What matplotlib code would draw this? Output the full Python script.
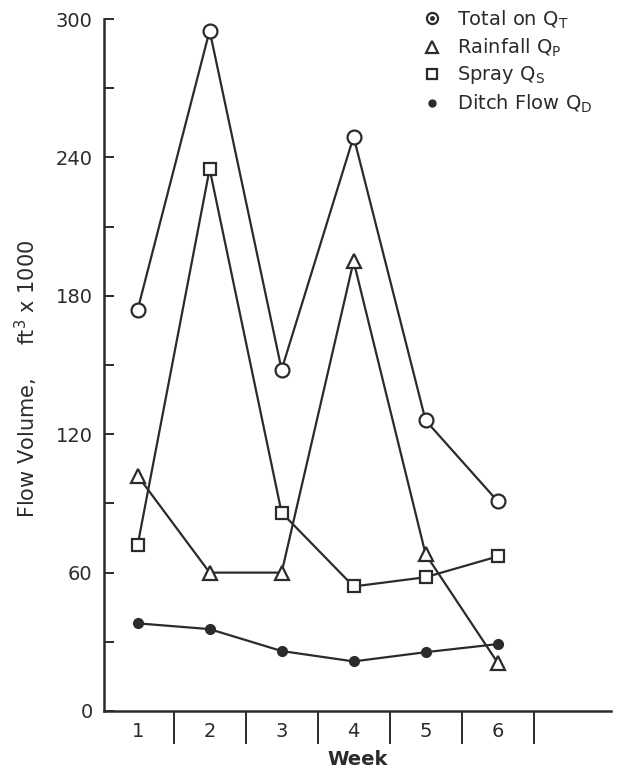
import matplotlib.pyplot as plt
from matplotlib.lines import Line2D

# weekly flow volumes, ft^3 x 1000
weeks = [1, 2, 3, 4, 5, 6]
week_labels = ["1", "2", "3", "4", "5", "6"]
total_qt = [174, 295, 148, 249, 126, 91]
rainfall_qp = [102, 60, 60, 195, 68, 21]
spray_qs = [72, 235, 86, 54, 58, 67]
ditch_qd = [38, 35.5, 26, 21.5, 25.5, 29]

ink = "#2b2b2b"
plt.rcParams["font.family"] = ["DejaVu Sans"]

fig = plt.figure(figsize=(6.18, 7.74), dpi=100)
ax = fig.add_axes([0.168, 0.0814, 0.82, 0.894])

lw = 1.6
ax.plot(weeks, total_qt, color=ink, lw=lw, marker="o", ms=10, mfc="white", mec=ink, mew=1.6, zorder=3)
ax.plot(weeks, spray_qs, color=ink, lw=lw, marker="s", ms=9, mfc="white", mec=ink, mew=1.6, zorder=3)
ax.plot(weeks, rainfall_qp, color=ink, lw=lw, marker="^", ms=10, mfc="white", mec=ink, mew=1.6, zorder=3)
ax.plot(weeks, ditch_qd, color=ink, lw=lw, marker="o", ms=7, mfc=ink, mec=ink, zorder=3)

ax.set_ylim(0, 300)
ax.set_xlim(0.53, 7.57)
ax.spines["top"].set_visible(False)
ax.spines["right"].set_visible(False)
for s in ["left", "bottom"]:
    ax.spines[s].set_linewidth(1.8)
    ax.spines[s].set_color(ink)

ax.set_yticks([0, 60, 120, 180, 240, 300])
ax.set_yticks([30, 90, 150, 210, 270], minor=True)
ax.tick_params(axis="y", which="both", direction="in", length=7, width=1.4, color=ink,
               labelsize=14, labelcolor=ink, pad=8)

# week labels centred, separators between weeks
ax.set_xticks(weeks)
ax.set_xticklabels(week_labels)
ax.tick_params(axis="x", which="major", length=0, labelsize=14, labelcolor=ink, pad=8)
ax.set_xticks([w + 0.5 for w in weeks], minor=True)
ax.tick_params(axis="x", which="minor", direction="out", length=24, width=1.4, color=ink)

ax.set_xlabel("Week", fontsize=14, fontweight="bold", color=ink, labelpad=1)
ax.set_ylabel("Flow Volume,     ft$^3$ x 1000", fontsize=15, color=ink)
ax.yaxis.set_label_coords(-0.125, 0.48)

handles = [
    (Line2D([], [], ls="none", marker="o", ms=8, mfc="white", mec=ink, mew=1.6),
     Line2D([], [], ls="none", marker="o", ms=2.5, mfc=ink, mec=ink)),
    Line2D([], [], ls="none", marker="^", ms=8, mfc="white", mec=ink, mew=1.6),
    Line2D([], [], ls="none", marker="s", ms=7, mfc="white", mec=ink, mew=1.6),
    Line2D([], [], ls="none", marker="o", ms=5, mfc=ink, mec=ink),
]
labels = ["Total on Q$_\\mathregular{T}$", "Rainfall Q$_\\mathregular{P}$",
          "Spray Q$_\\mathregular{S}$", "Ditch Flow Q$_\\mathregular{D}$"]
fig.legend(handles, labels, loc="upper left", bbox_to_anchor=(0.655, 1.012),
           frameon=False, fontsize=14, handlelength=1.0, handletextpad=0.8,
           labelspacing=0.3, labelcolor=ink)

plt.savefig("out.png", dpi=100)
